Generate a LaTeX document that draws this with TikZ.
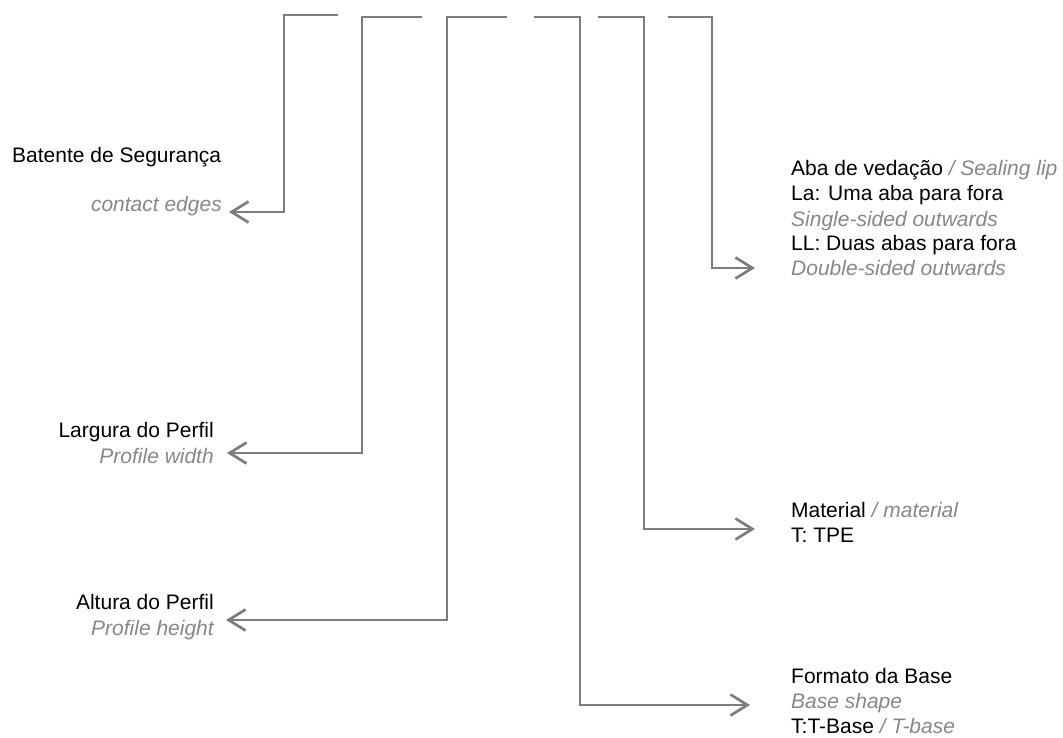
\documentclass[tikz,border=0pt]{standalone}
\usepackage{fontspec}
\setmainfont{Liberation Sans}
\usetikzlibrary{arrows.meta}
\definecolor{linegray}{RGB}{125,125,125}
\definecolor{txtgray}{RGB}{135,135,135}
\begin{document}
\begin{tikzpicture}[x=1pt,y=-1pt,
  lbl/.style={inner sep=0pt, font=\fontsize{21}{25}\selectfont, text=black},
  sub/.style={inner sep=0pt, font=\fontsize{21}{25}\selectfont\itshape, text=txtgray},
  conn/.style={draw=linegray, line width=2.7pt, -{Straight Barb[length=17pt,width=21pt]}}]
\useasboundingbox (0,0) rectangle (1063,738);

% left texts
\node[lbl, anchor=base west] (bs) at (12,163) {Batente de Segurança};
\node[sub, anchor=base east] (ce) at (222,212) {contact edges};
\node[lbl, anchor=base east] (lp) at (214,437) {Largura do Perfil};
\node[sub, anchor=base east] (pw) at (214,463) {Profile width};
\node[lbl, anchor=base east] (ap) at (214,609) {Altura do Perfil};
\node[sub, anchor=base east] (ph) at (214,635) {Profile height};

% right texts
\node[lbl, anchor=base west] (aba) at (791,176) {Aba de vedação \textcolor{txtgray}{\itshape / Sealing lip}};
\node[lbl, anchor=base west] (la) at (791,201) {La: Uma aba para fora};
\node[sub, anchor=base west] (ss) at (791,226) {Single-sided outwards};
\node[lbl, anchor=base west] (ll) at (791,251) {LL: Duas abas para fora};
\node[sub, anchor=base west] (ds) at (791,276) {Double-sided outwards};
\node[lbl, anchor=base west] (mat) at (791,517) {Material \textcolor{txtgray}{\itshape / material}};
\node[lbl, anchor=base west] (tpe) at (791,542) {T: TPE};
\node[lbl, anchor=base west] (fb) at (791,683) {Formato da Base};
\node[sub, anchor=base west] (bsh) at (791,708) {Base shape};
\node[lbl, anchor=base west] (tb) at (791,733) {T:T-Base \textcolor{txtgray}{\itshape / T-base}};

% bar coordinates
\coordinate (b1) at (338,15);  \coordinate (c1) at (284,15);  \coordinate (a1) at (229,212);
\coordinate (b2) at (422,17);  \coordinate (c2) at (362,17);  \coordinate (a2) at (227,453);
\coordinate (b3) at (507,17);  \coordinate (c3) at (447,17);  \coordinate (a3) at (226,620);
\coordinate (b4) at (534,17);  \coordinate (c4) at (580,17);  \coordinate (a4) at (750,705);
\coordinate (b5) at (598,17);  \coordinate (c5) at (644,17);  \coordinate (a5) at (755,529);
\coordinate (b6) at (668,17);  \coordinate (c6) at (712,17);  \coordinate (a6) at (755,268);

\draw[conn] (b1) -- (c1) |- (a1);
\draw[conn] (b2) -- (c2) |- (a2);
\draw[conn] (b3) -- (c3) |- (a3);
\draw[conn] (b4) -- (c4) |- (a4);
\draw[conn] (b5) -- (c5) |- (a5);
\draw[conn] (b6) -- (c6) |- (a6);
\end{tikzpicture}
\end{document}
